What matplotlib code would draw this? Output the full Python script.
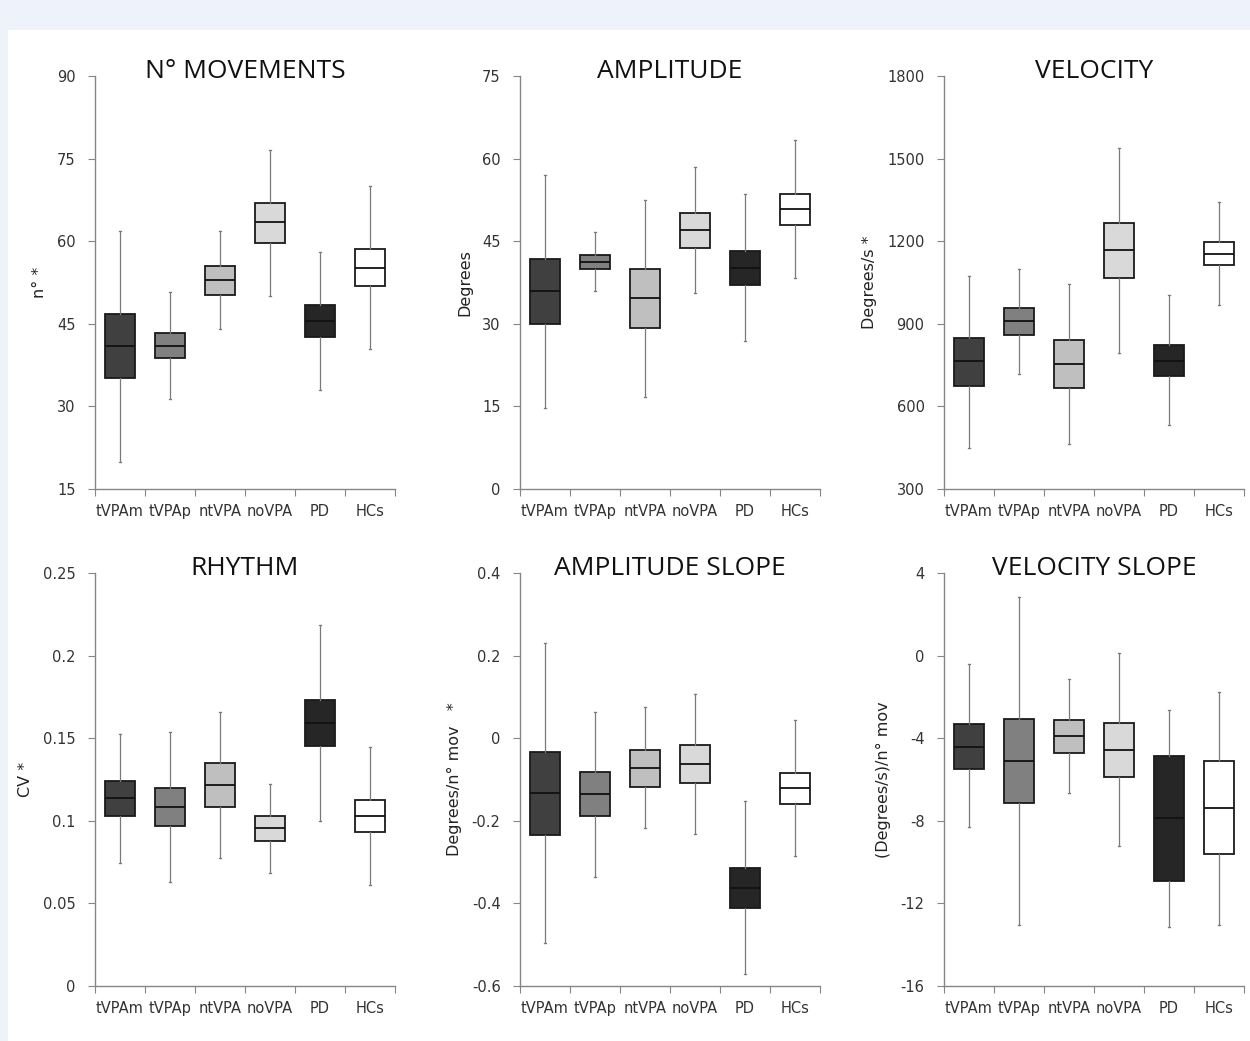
import numpy as np
import matplotlib
matplotlib.use('Agg')
import matplotlib.pyplot as plt
from matplotlib.patches import Rectangle

groups = ['tVPAm', 'tVPAp', 'ntVPA', 'noVPA', 'PD', 'HCs']
fills = ['#404040', '#808080', '#bfbfbf', '#d9d9d9', '#262626', '#ffffff']

# each row: whisker low, Q1, median, Q3, whisker high
movements = [[19.9, 35.1, 41.0, 46.8, 61.9],
             [31.4, 38.7, 41.0, 43.4, 50.8],
             [44.0, 50.2, 53.0, 55.5, 61.8],
             [50.1, 59.7, 63.5, 67.0, 76.6],
             [33.0, 42.6, 45.5, 48.5, 58.1],
             [40.5, 51.8, 55.2, 58.6, 70.0]]
amplitude = [[14.7, 30.0, 35.9, 41.7, 57.0],
             [35.9, 39.9, 41.3, 42.5, 46.6],
             [16.7, 29.2, 34.6, 39.9, 52.4],
             [35.6, 43.8, 47.0, 50.1, 58.4],
             [26.8, 37.1, 40.1, 43.2, 53.5],
             [38.3, 48.0, 50.8, 53.6, 63.3]]
velocity = [[450, 674, 764, 848, 1075],
            [718, 860, 910, 957, 1100],
            [464, 667, 755, 841, 1045],
            [795, 1067, 1167, 1266, 1539],
            [532, 712, 766, 822, 1003],
            [969, 1113, 1155, 1197, 1341]]
rhythm = [[0.0747, 0.1028, 0.1140, 0.1243, 0.1526],
          [0.0630, 0.0970, 0.1085, 0.1196, 0.1538],
          [0.0775, 0.1081, 0.1215, 0.1348, 0.1656],
          [0.0682, 0.0877, 0.0955, 0.1028, 0.1225],
          [0.1000, 0.1453, 0.1593, 0.1731, 0.2186],
          [0.0609, 0.0933, 0.1028, 0.1126, 0.1446]]
amp_slope = [[-0.497, -0.234, -0.133, -0.033, 0.230],
             [-0.335, -0.189, -0.135, -0.082, 0.063],
             [-0.217, -0.117, -0.071, -0.029, 0.076],
             [-0.233, -0.109, -0.063, -0.016, 0.107],
             [-0.572, -0.410, -0.362, -0.315, -0.151],
             [-0.286, -0.160, -0.121, -0.085, 0.043]]
vel_slope = [[-8.30, -5.48, -4.41, -3.29, -0.43],
             [-13.04, -7.16, -5.10, -3.05, 2.84],
             [-6.66, -4.74, -3.91, -3.10, -1.15],
             [-9.24, -5.87, -4.55, -3.26, 0.12],
             [-13.13, -10.93, -7.87, -4.86, -2.62],
             [-13.04, -9.61, -7.38, -5.11, -1.75]]

panels = [
    ('N° MOVEMENTS', 'n° *', movements, (15, 90), np.arange(15, 91, 15), '{:.0f}'),
    ('AMPLITUDE', 'Degrees', amplitude, (0, 75), np.arange(0, 76, 15), '{:.0f}'),
    ('VELOCITY', 'Degrees/s *', velocity, (300, 1800), np.arange(300, 1801, 300), '{:.0f}'),
    ('RHYTHM', 'CV *', rhythm, (0, 0.25), [0, 0.05, 0.1, 0.15, 0.2, 0.25], '{:g}'),
    ('AMPLITUDE SLOPE', 'Degrees/n° mov   *', amp_slope, (-0.6, 0.4), [-0.6, -0.4, -0.2, 0, 0.2, 0.4], '{:g}'),
    ('VELOCITY SLOPE', '(Degrees/s)/n° mov', vel_slope, (-16, 4), np.arange(-16, 5, 4), '{:.0f}'),
]

fig = plt.figure(figsize=(12.5, 10.41), dpi=100)
fig.patch.set_facecolor('#eef3fb')
fig.patches.append(Rectangle((8 / 1250, 0), 1, (1041 - 30) / 1041,
                             transform=fig.transFigure, facecolor='white',
                             edgecolor='none', zorder=-5))

lefts = [95, 520, 944]
tops = [76, 573]
W, H = 300, 413
axis_grey = '#868686'

for i, (title, ylab, rows, ylim, ticks, fmt) in enumerate(panels):
    r, c = divmod(i, 3)
    ax = fig.add_axes([lefts[c] / 1250, (1041 - tops[r] - H) / 1041, W / 1250, H / 1041])
    ax.set_facecolor('none')
    stats = [dict(whislo=v[0], q1=v[1], med=v[2], q3=v[3], whishi=v[4], fliers=[])
             for v in rows]
    bp = ax.bxp(stats, positions=range(1, 7), widths=0.6, patch_artist=True,
                showfliers=False, capwidths=0.04,
                boxprops=dict(edgecolor='#1a1a1a', linewidth=1.3),
                medianprops=dict(color='#111111', linewidth=1.3),
                whiskerprops=dict(color='#7a7a7a', linewidth=0.9),
                capprops=dict(color='#7a7a7a', linewidth=0.9))
    for patch, col in zip(bp['boxes'], fills):
        patch.set_facecolor(col)
    ax.set_xlim(0.5, 6.5)
    ax.set_ylim(*ylim)
    ax.set_yticks(ticks)
    ax.set_yticklabels([fmt.format(t) for t in ticks])
    ax.set_xticks(np.arange(0.5, 6.6, 1))
    ax.set_xticklabels([])
    ax.set_xticks(range(1, 7), minor=True)
    ax.set_xticklabels(groups, minor=True)
    ax.tick_params(axis='x', which='minor', length=0, pad=11)
    ax.tick_params(axis='x', which='major', length=5, color=axis_grey, direction='out')
    ax.tick_params(axis='y', length=5, color=axis_grey, direction='out', pad=9)
    ax.tick_params(labelsize=10.5, labelcolor='#333333', which='both')
    for s in ['top', 'right']:
        ax.spines[s].set_visible(False)
    for s in ['left', 'bottom']:
        ax.spines[s].set_color(axis_grey)
        ax.spines[s].set_linewidth(1.0)
    ax.set_ylabel(ylab, fontsize=11.5, color='#222222', labelpad=7)
    ax.text(0.5, 1.01, title, transform=ax.transAxes, ha='center', va='center',
            fontsize=19, family='Open Sans', color='#111111')

fig.savefig('out.png', dpi=100, facecolor=fig.get_facecolor())
